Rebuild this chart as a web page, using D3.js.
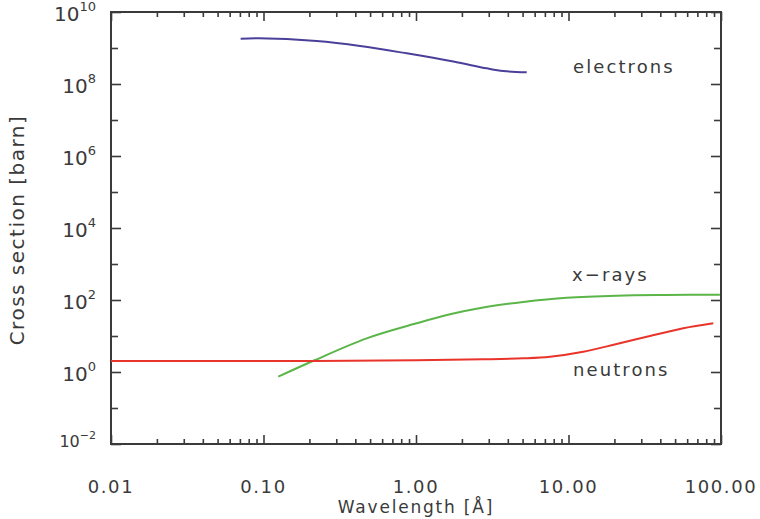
<!DOCTYPE html>
<html>
<head>
<meta charset="utf-8">
<script src="https://cdn.jsdelivr.net/npm/d3@7"></script>
<style>
  html, body { margin: 0; padding: 0; background: #fff; }
  svg text { font-family: "DejaVu Sans", sans-serif; fill: #3a3a3a; }
</style>
</head>
<body>
<svg id="chart" width="760" height="519"></svg>
<script>
// Wavelength in Å, cross section in barn
const electronWavelength = [0.0708, 0.0925, 0.223, 0.43, 0.87, 1.76, 2.91, 3.73, 5.32];
const electronSigma      = [1.81e9, 1.86e9, 1.56e9, 1.14e9, 7.1e8, 4.2e8, 2.73e8, 2.3e8, 2.11e8];

const xrayWavelength = [0.125, 0.218, 0.475, 1.01, 1.67, 2.76, 5.05, 9.73, 20.7, 44, 98.4];
const xraySigma      = [0.74, 2.15, 8.6, 22.5, 40, 62, 88, 115, 132, 138, 140];

const neutronWavelength = [0.01, 0.218, 1.0, 2.76, 5.05, 7.57, 12.5, 20.7, 34.2, 56.6, 89];
const neutronSigma      = [2.02, 2.02, 2.11, 2.25, 2.4, 2.66, 3.66, 6.0, 10, 16.4, 22.5];

const xTickLabels = ["0.01", "0.10", "1.00", "10.00", "100.00"];
const xTickValues = [0.01, 0.1, 1, 10, 100];
const yTickExponents = [-2, 0, 2, 4, 6, 8, 10];

const svg = d3.select("#chart");
const plotLeft = 111, plotRight = 721, plotTop = 12, plotBottom = 444;

const x = d3.scaleLog().domain([0.01, 100]).range([plotLeft, plotRight]);
const y = d3.scaleLog().domain([1e-2, 1e10]).range([plotBottom, plotTop]);

const axisColor = "#3a3a3a";

// minor x ticks at 2..9 within each decade
const xMinor = [];
for (let e = -2; e < 2; e++) for (let m = 2; m <= 9; m++) xMinor.push(m * Math.pow(10, e));
const yMajor = yTickExponents.map(e => Math.pow(10, e));
const yMinor = [-1, 1, 3, 5, 7, 9].map(e => Math.pow(10, e));

function styleAxis(g) {
  g.select(".domain").remove();
  g.selectAll("line").attr("stroke", axisColor).attr("stroke-width", 1.6);
  g.selectAll("text").remove();
}

// bottom & top tick marks, pointing inward
svg.append("g").attr("transform", `translate(0,${plotBottom})`)
  .call(d3.axisBottom(x).tickValues(xTickValues).tickSize(-9)).call(styleAxis);
svg.append("g").attr("transform", `translate(0,${plotBottom})`)
  .call(d3.axisBottom(x).tickValues(xMinor).tickSize(-5)).call(styleAxis);
svg.append("g").attr("transform", `translate(0,${plotTop})`)
  .call(d3.axisTop(x).tickValues(xTickValues).tickSize(-9)).call(styleAxis);
svg.append("g").attr("transform", `translate(0,${plotTop})`)
  .call(d3.axisTop(x).tickValues(xMinor).tickSize(-5)).call(styleAxis);

// left & right tick marks, pointing inward
svg.append("g").attr("transform", `translate(${plotLeft},0)`)
  .call(d3.axisLeft(y).tickValues(yMajor).tickSize(-10)).call(styleAxis);
svg.append("g").attr("transform", `translate(${plotLeft},0)`)
  .call(d3.axisLeft(y).tickValues(yMinor).tickSize(-7)).call(styleAxis);
svg.append("g").attr("transform", `translate(${plotRight},0)`)
  .call(d3.axisRight(y).tickValues(yMajor).tickSize(-10)).call(styleAxis);
svg.append("g").attr("transform", `translate(${plotRight},0)`)
  .call(d3.axisRight(y).tickValues(yMinor).tickSize(-7)).call(styleAxis);

// frame
svg.append("rect")
  .attr("x", plotLeft).attr("y", plotTop)
  .attr("width", plotRight - plotLeft).attr("height", plotBottom - plotTop)
  .attr("fill", "none").attr("stroke", axisColor).attr("stroke-width", 2);

// x tick labels
svg.append("g").selectAll("text").data(xTickValues).join("text")
  .attr("x", d => x(d)).attr("y", 493)
  .attr("text-anchor", "middle").attr("font-size", 18)
  .attr("letter-spacing", 1.6)
  .text((d, i) => xTickLabels[i]);

// y tick labels as powers of ten (the lowest one is set smaller)
const yl = svg.append("g").selectAll("text").data(yTickExponents).join("text")
  .attr("x", 96)
  .attr("y", e => y(Math.pow(10, e)) + (e < 0 ? 3 : 9))
  .attr("text-anchor", "end")
  .attr("font-size", e => e < 0 ? 16 : 20);
yl.append("tspan").text("10");
yl.append("tspan")
  .attr("dy", e => e < 0 ? -8 : -10)
  .attr("font-size", e => e < 0 ? 11 : 13)
  .text(e => e < 0 ? "\u2212" + Math.abs(e) : e);

// axis titles
svg.append("text")
  .attr("x", (plotLeft + plotRight) / 2).attr("y", 513)
  .attr("text-anchor", "middle").attr("font-size", 17).attr("letter-spacing", 1.8)
  .text("Wavelength [Å]");
svg.append("text")
  .attr("transform", `translate(24,230) rotate(-90)`)
  .attr("text-anchor", "middle").attr("font-size", 20).attr("letter-spacing", 1.5)
  .text("Cross section [barn]");

// curves
const line = d3.line().x(d => x(d[0])).y(d => y(d[1])).curve(d3.curveCatmullRom.alpha(0.5));
const series = [
  { name: "electrons", wl: electronWavelength, s: electronSigma, color: "#4a3f99" },
  { name: "x-rays", wl: xrayWavelength, s: xraySigma, color: "#5bb548" },
  { name: "neutrons", wl: neutronWavelength, s: neutronSigma, color: "#e8342a" }
];
series.forEach(sr => {
  svg.append("path")
    .datum(d3.zip(sr.wl, sr.s))
    .attr("d", line)
    .attr("fill", "none")
    .attr("stroke", sr.color)
    .attr("stroke-width", 2);
});

// curve labels
const labels = [
  { text: "electrons", x: 573, y: 73 },
  { text: "x\u2212rays", x: 572, y: 281 },
  { text: "neutrons", x: 573, y: 376 }
];
svg.append("g").selectAll("text").data(labels).join("text")
  .attr("x", d => d.x).attr("y", d => d.y)
  .attr("font-size", 18).attr("letter-spacing", 2.1)
  .text(d => d.text);
</script>
</body>
</html>
